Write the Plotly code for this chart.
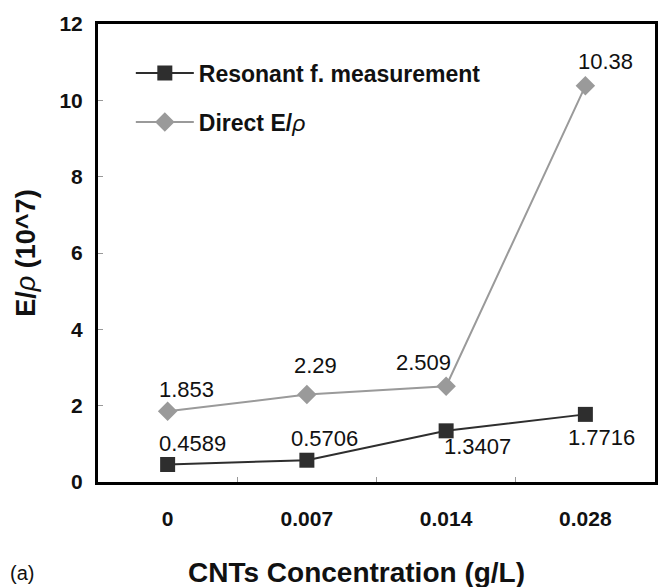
import plotly.graph_objects as go

# CNT concentration categories (g/L) and specific modulus E/rho (x 10^7)
concentrations = ["0", "0.007", "0.014", "0.028"]
resonant_values = [0.4589, 0.5706, 1.3407, 1.7716]
direct_values = [1.853, 2.29, 2.509, 10.38]
y_ticks = [0, 2, 4, 6, 8, 10, 12]

FONT = "Liberation Sans, Arial, sans-serif"
DARK = "#2e2e2e"
GREY = "#9a9a9a"

W, H = 659, 587
M_L, M_R, M_T, M_B = 98, 1, 24, 105
PW, PH = W - M_L - M_R, H - M_T - M_B

fig = go.Figure()

fig.add_trace(go.Scatter(
    x=concentrations, y=resonant_values, mode="lines+markers",
    name="<b>Resonant f. measurement</b>",
    line=dict(color=DARK, width=2),
    marker=dict(symbol="square", size=15, color=DARK),
    legend="legend",
))
fig.add_trace(go.Scatter(
    x=concentrations, y=direct_values, mode="lines+markers",
    name="<b>Direct E/</b><i>ρ</i>",
    line=dict(color=GREY, width=2),
    marker=dict(symbol="diamond", size=15, color=GREY),
    legend="legend2",
))

# value labels: pixel offsets from each marker
resonant_offsets = [(25, -21), (18, -22), (31, 16), (16, 23)]
direct_offsets = [(19, -22), (9, -29), (-23, -24), (20, -24)]
for values, offsets in ((resonant_values, resonant_offsets), (direct_values, direct_offsets)):
    for i, (v, (dx, dy)) in enumerate(zip(values, offsets)):
        fig.add_annotation(
            x=i, y=v, text=f"{v:g}", showarrow=False,
            xshift=dx, yshift=-dy,
            font=dict(family=FONT, size=22, color="#111111"),
        )

# x-axis title, set slightly left of the plot centre
fig.add_annotation(
    xref="paper", yref="paper", x=(358 - M_L) / PW, y=-(572 - M_T - PH) / PH,
    xanchor="center", yanchor="middle",
    text="<b>CNTs Concentration (g/L)</b>", showarrow=False,
    font=dict(family=FONT, size=28, color="#111111"),
)

# panel tag
fig.add_annotation(
    xref="paper", yref="paper", x=(8 - M_L) / PW, y=-(573 - M_T - PH) / PH,
    xanchor="left", yanchor="middle",
    text="(a)", showarrow=False,
    font=dict(family=FONT, size=20, color="#111111"),
)

legend_common = dict(
    xref="paper", yref="paper", xanchor="left", yanchor="middle",
    bgcolor="rgba(0,0,0,0)", borderwidth=0, itemwidth=58,
    font=dict(family=FONT, size=23, color="#111111"),
)

fig.update_layout(
    width=W, height=H,
    margin=dict(l=M_L, r=M_R, t=M_T, b=M_B),
    plot_bgcolor="white", paper_bgcolor="white",
    font=dict(family=FONT, color="#111111"),
    showlegend=True,
    legend=dict(x=(131 - M_L) / PW, y=1 - (73 - M_T) / PH, **legend_common),
    legend2=dict(x=(131 - M_L) / PW, y=1 - (122 - M_T) / PH, **legend_common),
    xaxis=dict(
        type="category", range=[-0.5, 3.5],
        showline=True, linecolor="black", linewidth=3, mirror=True,
        ticks="inside", tickson="boundaries", ticklen=5, tickcolor="#999999",
        showgrid=False, ticklabelstandoff=16,
        tickfont=dict(family=FONT, size=21, color="#111111", weight="bold"),
    ),
    yaxis=dict(
        range=[0, 12], tickvals=y_ticks,
        showline=True, linecolor="black", linewidth=3, mirror=True,
        ticks="inside", ticklen=5, tickcolor="#999999",
        showgrid=False, zeroline=False, ticklabelstandoff=8,
        tickfont=dict(family=FONT, size=21, color="#111111", weight="bold"),
        title=dict(text="<b>E/</b><i>ρ</i><b> (10^7)</b>", standoff=16,
                   font=dict(family=FONT, size=27, color="#111111")),
    ),
)

fig.write_html("out.html")
